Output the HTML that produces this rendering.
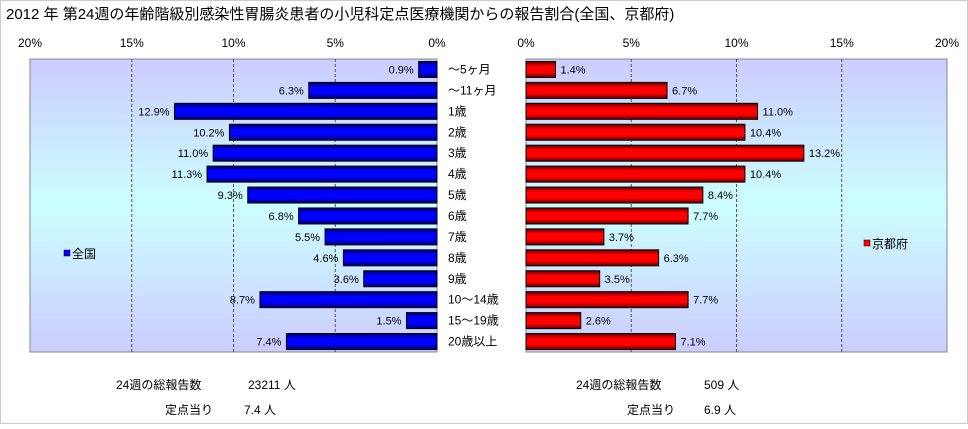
<!DOCTYPE html>
<html><head><meta charset="utf-8"><style>
body{margin:0;background:#fff}
svg text{font-family:"Liberation Sans","Noto Sans CJK JP",sans-serif;fill:#000}
</style></head><body>
<svg width="968" height="424" xmlns="http://www.w3.org/2000/svg">
<defs>
<linearGradient id="bg" x1="0" y1="0" x2="0" y2="1">
<stop offset="0" stop-color="#ccccff"/><stop offset="0.5" stop-color="#ccffff"/><stop offset="1" stop-color="#ccccff"/></linearGradient>
<linearGradient id="gb" x1="0" y1="0" x2="0" y2="1">
<stop offset="0" stop-color="#000060"/><stop offset="0.3" stop-color="#0000ff"/><stop offset="0.7" stop-color="#0000ff"/><stop offset="1" stop-color="#000060"/></linearGradient>
<linearGradient id="gr" x1="0" y1="0" x2="0" y2="1">
<stop offset="0" stop-color="#600000"/><stop offset="0.3" stop-color="#ff0000"/><stop offset="0.7" stop-color="#ff0000"/><stop offset="1" stop-color="#600000"/></linearGradient>
</defs>
<rect x="0.5" y="0.5" width="967" height="423" fill="#fff" stroke="#ccc"/>
<text x="6" y="19" font-size="15">2012 年 第24週の年齢階級別感染性胃腸炎患者の小児科定点医療機関からの報告割合(全国、京都府)</text>
<g id="g"></g>
<rect x="64" y="250" width="6" height="6" fill="#0000ff" stroke="#000" stroke-width="0.5"/>
<text x="72" y="258" font-size="12">全国</text>
<rect x="864" y="240" width="6" height="6" fill="#ff0000" stroke="#000" stroke-width="0.5"/>
<text x="872" y="248" font-size="12">京都府</text>
<text x="116" y="389" font-size="12">24週の総報告数</text>
<text x="248" y="389" font-size="12">23211 人</text>
<text x="165" y="414" font-size="12">定点当り</text>
<text x="244" y="414" font-size="12">7.4 人</text>
<text x="576" y="389" font-size="12">24週の総報告数</text>
<text x="704" y="389" font-size="12">509 人</text>
<text x="627" y="414" font-size="12">定点当り</text>
<text x="704" y="414" font-size="12">6.9 人</text>
</svg>
<script>
const categories=["～5ヶ月","～11ヶ月","1歳","2歳","3歳","4歳","5歳","6歳","7歳","8歳","9歳","10～14歳","15～19歳","20歳以上"];
const nationalValues=[0.9,6.3,12.9,10.2,11.0,11.3,9.3,6.8,5.5,4.6,3.6,8.7,1.5,7.4];
const kyotoValues=[1.4,6.7,11.0,10.4,13.2,10.4,8.4,7.7,3.7,6.3,3.5,7.7,2.6,7.1];
const ticks=[0,5,10,15,20];
const NS="http://www.w3.org/2000/svg";
const g=document.getElementById('g');
const top0=59,bot=352,rowH=(bot-top0)/categories.length;
const L0=437,L20=30,R0=526,R20=947;
const xL=v=>L0-(L0-L20)*v/20, xR=v=>R0+(R20-R0)*v/20;
const yC=i=>top0+rowH*(i+0.5);
function mk(t,a,p){const e=document.createElementNS(NS,t);for(const k in a)e.setAttribute(k,a[k]);(p||g).appendChild(e);return e;}
let e;
e=mk('rect',{x:L20,y:top0,width:L0-L20,height:bot-top0,fill:'url(#bg)',stroke:'#888'});


e=mk('rect',{x:R0,y:top0,width:R20-R0,height:bot-top0,fill:'url(#bg)',stroke:'#888'});


ticks.forEach(t=>{
 if(t>0&&t<20){
  e=mk('line',{x1:xL(t),x2:xL(t),y1:top0,y2:bot,stroke:'#555','stroke-dasharray':'3,2'});
  
  
  e=mk('line',{x1:xR(t),x2:xR(t),y1:top0,y2:bot,stroke:'#555','stroke-dasharray':'3,2'});
  
  
 }
 e=mk('text',{x:xL(t),y:47,'font-size':12,'text-anchor':'middle'});e.textContent=t+'%';
 
 
 e=mk('text',{x:xR(t),y:47,'font-size':12,'text-anchor':'middle'});e.textContent=t+'%';
 
 
});
categories.forEach((c,i)=>{
 const y=yC(i),h=16;
 const v=nationalValues[i],w=xL(0)-xL(v);
 e=mk('rect',{x:xL(v),y:y-h/2,width:w,height:h,fill:'url(#gb)',stroke:'#000'});
 
 
 e=mk('text',{x:xL(v)-5,y:y+4,'font-size':11,'text-anchor':'end'});e.textContent=v.toFixed(1)+'%';
 
 
 const k=kyotoValues[i];
 e=mk('rect',{x:R0,y:y-h/2,width:xR(k)-R0,height:h,fill:'url(#gr)',stroke:'#000'});
 
 
 e=mk('text',{x:xR(k)+5,y:y+4,'font-size':11});e.textContent=k.toFixed(1)+'%';
 
 
 e=mk('text',{x:448,y:y+4,'font-size':12});e.textContent=c;
 
 
});
</script>
</body></html>
